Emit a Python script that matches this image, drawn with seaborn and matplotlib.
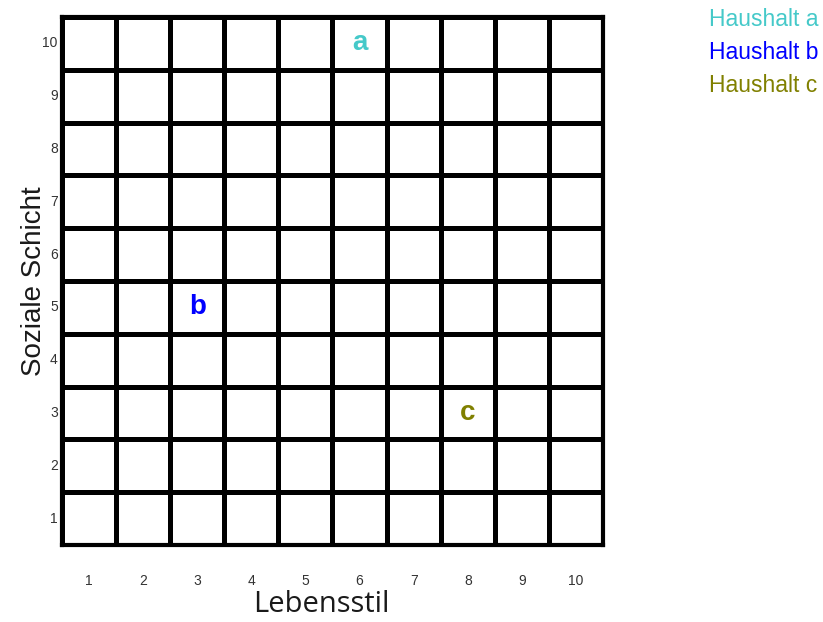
import matplotlib
matplotlib.use("Agg")
import matplotlib.pyplot as plt
import numpy as np
import pandas as pd
import seaborn as sns

sns.set_style("white")
plt.rcParams["font.family"] = ["Liberation Sans", "DejaVu Sans"]

# Haushalte im Raster (Lebensstil, Soziale Schicht)
haushalte = ["a", "b", "c"]
lebensstil = [6, 3, 8]
schicht = [10, 5, 3]
farben = ["#45C9C9", "#0000FF", "#808000"]
stufen = list(range(1, 11))

# leeres 10x10-Raster, oben 10, unten 1
raster = pd.DataFrame(np.zeros((10, 10)), index=stufen[::-1], columns=stufen)
beschriftung = pd.DataFrame("", index=stufen[::-1], columns=stufen)
for h, x, y in zip(haushalte, lebensstil, schicht):
    beschriftung.loc[y, x] = h

fig = plt.figure(figsize=(8.23, 6.22), dpi=100)
ax = fig.add_axes([0.0753, 0.1238, 0.6574, 0.8489])
sns.heatmap(raster, annot=beschriftung, fmt="", cmap=["white"], cbar=False,
            linewidths=2.4, linecolor="black", ax=ax,
            annot_kws={"fontsize": 20, "fontweight": "bold"})

# Farben der Buchstaben setzen
farbe_von = dict(zip(haushalte, farben))
for t in ax.texts:
    if t.get_text() in farbe_von:
        t.set_color(farbe_von[t.get_text()])

for s in ax.spines.values():
    s.set_visible(True)
    s.set_color("black")
    s.set_linewidth(3)

ax.tick_params(axis="x", length=0, pad=21, labelsize=10, labelcolor="#333333")
ax.tick_params(axis="y", length=0, pad=3, labelsize=10, labelcolor="#333333")
plt.setp(ax.get_yticklabels(), rotation=0)
ax.set_xlabel("Lebensstil", fontsize=21, color="#1a1a1a", family="Open Sans")
ax.xaxis.set_label_coords(0.48, -0.085)
ax.set_ylabel("Soziale Schicht", fontsize=20, color="#1a1a1a", labelpad=-3)

# Legende als farbiger Text rechts oben
for i, (h, f) in enumerate(zip(haushalte, farben)):
    fig.text(0.861, 0.969 - i * 0.053, "Haushalt " + h, color=f,
             fontsize=16.5, va="center")

plt.savefig("out.png", dpi=100)
